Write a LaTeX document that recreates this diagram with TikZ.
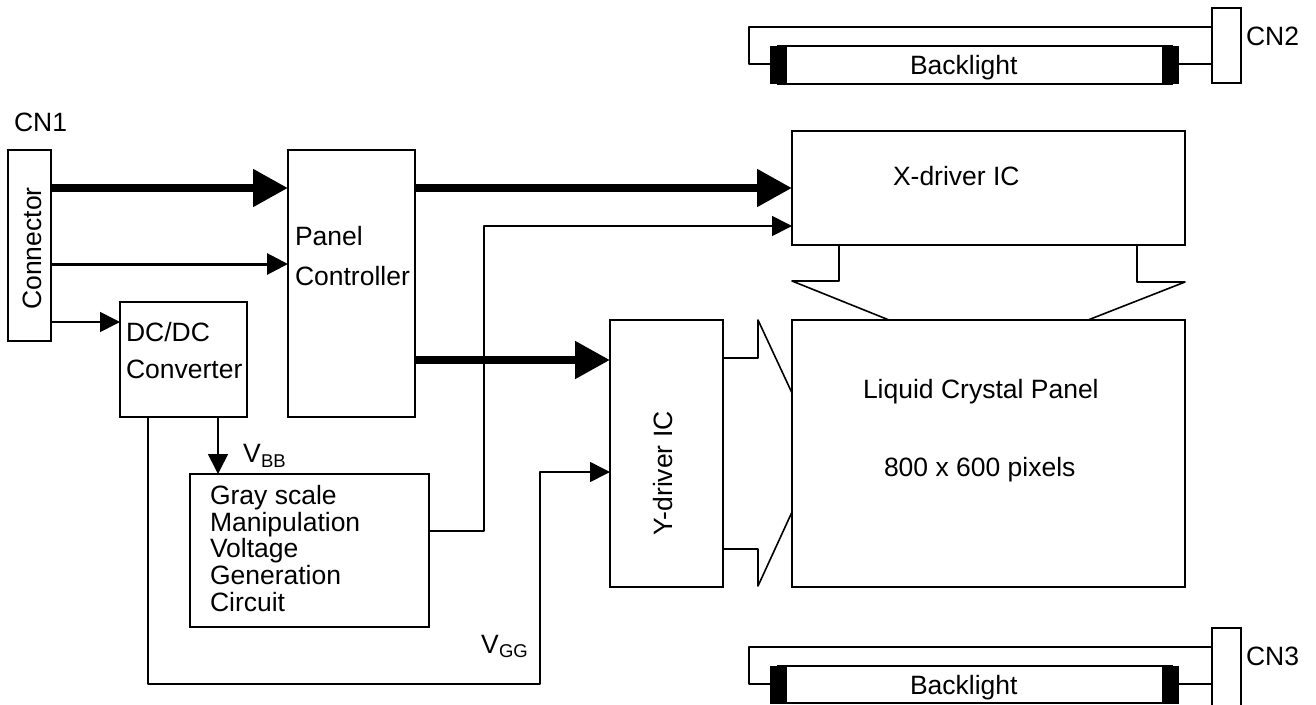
\documentclass[tikz,border=0pt]{standalone}
\usepackage{fontspec}
\setmainfont{Liberation Sans}
\usetikzlibrary{arrows.meta}
\tikzset{
    blockbox/.style={draw, line width=1.6pt, inner sep=0pt, outer sep=0pt},
    capbox/.style={fill=black, inner sep=0pt, outer sep=0pt, minimum width=17pt},
    wire/.style={line width=1.6pt, line join=round},
    txt/.style={anchor=base west, inner sep=0pt, outer sep=0pt, font=\fontsize{26.5}{26.6}\selectfont},
    txtup/.style={anchor=base, rotate=90, inner sep=0pt, outer sep=0pt, font=\fontsize{26.5}{26.6}\selectfont},
    subtxt/.style={anchor=base west, inner sep=0pt, outer sep=0pt, font=\fontsize{18.5}{19}\selectfont},
    widearrow/.style={line width=8pt, -{Triangle[length=35pt,width=36pt]}},
    midarrow/.style={line width=3pt, -{Triangle[length=21pt,width=21pt]}},
    thinarrow/.style={wire, -{Triangle[length=20pt,width=20pt]}}
}
\begin{document}
\begin{tikzpicture}[x=1pt,y=-1pt]
    \useasboundingbox (0,0) rectangle (1316,704);

    % Blocks on the left side
    \node[blockbox, minimum width=43pt, minimum height=191pt] (connector) at (29.5,245.5) {};
    \node[blockbox, minimum width=127pt, minimum height=267pt] (panelctl) at (351.5,283.5) {};
    \node[blockbox, minimum width=127pt, minimum height=115pt] (dcdc) at (183.5,359.5) {};
    \node[blockbox, minimum width=239pt, minimum height=153pt] (grayscale) at (309.5,550.5) {};

    % Drivers and panel
    \node[blockbox, minimum width=113pt, minimum height=267pt] (ydriver) at (666.5,453.5) {};
    \node[blockbox, minimum width=393pt, minimum height=114pt] (xdriver) at (988.5,188) {};
    \node[blockbox, minimum width=393pt, minimum height=267pt] (panel) at (988.5,453.5) {};

    % Connectors for the backlights
    \node[blockbox, minimum width=29pt, minimum height=75pt] (cntwo) at (1226.5,45.5) {};
    \node[blockbox, minimum width=29pt, minimum height=78pt] (cnthree) at (1226.5,667) {};

    % Upper backlight
    \draw[wire] (cntwo.west |- 0,27) -- (749,27) -- (749,64) -- (770,64);
    \draw[wire] (cntwo.west |- 0,64) -- (1179,64);
    \node[blockbox, minimum width=394pt, minimum height=37.5pt] (tubetop) at (975,65) {};
    \node[capbox, minimum height=38pt] (capa) at (778.5,65) {};
    \node[capbox, minimum height=38pt] (capb) at (1170.5,65) {};

    % Lower backlight
    \draw[wire] (cnthree.west |- 0,647) -- (749,647) -- (749,684) -- (770,684);
    \draw[wire] (cnthree.west |- 0,684) -- (1179,684);
    \node[blockbox, minimum width=394pt, minimum height=37pt] (tubebot) at (975,684.5) {};
    \node[capbox, minimum height=38pt] (capc) at (778.5,685) {};
    \node[capbox, minimum height=38pt] (capd) at (1170.5,685) {};

    % Thick buses
    \draw[widearrow] (connector.east |- 0,188) -- (panelctl.west |- 0,188);
    \draw[widearrow] (panelctl.east |- 0,188) -- (xdriver.west |- 0,188);
    \draw[widearrow] (panelctl.east |- 0,360) -- (ydriver.west |- 0,360);

    % Single lines
    \draw[midarrow] (connector.east |- 0,264) -- (panelctl.west |- 0,264);
    \draw[thinarrow] (connector.east |- 0,322) -- (dcdc.west |- 0,322);
    \draw[thinarrow] (dcdc.south -| 218,0) -- (grayscale.north -| 218,0);
    \draw[thinarrow] (grayscale.east |- 0,531) -- (484,531) -- (484,226) -- (xdriver.west |- 0,226);
    \draw[thinarrow] (dcdc.south -| 148,0) -- (148,684) -- (540,684) -- (540,472) -- (ydriver.west |- 0,472);

    % Fan-out from the drivers to the panel
    \draw[wire] (xdriver.south -| 839,0) -- (839,281) -- (792,281) -- (889,320);
    \draw[wire] (xdriver.south -| 1137,0) -- (1137,282) -- (1185,282) -- (1088,320);
    \draw[wire] (ydriver.east |- 0,358) -- (758,358) -- (758,320) -- (panel.west |- 0,393);
    \draw[wire] (ydriver.east |- 0,549) -- (758,549) -- (758,586) -- (panel.west |- 0,512);

    % Labels
    \node[txt] (cnonelbl) at (14,131) {CN1};
    \node[txt] (cntwolbl) at (1246,45) {CN2};
    \node[txt] (cnthreelbl) at (1246,665) {CN3};
    \node[txtup] (connlbl) at (41.5,248.5) {Connector};
    \node[txt] (paneltxt) at (295,245) {Panel};
    \node[txt] (ctltxt) at (295,285) {Controller};
    \node[txt] (dctxt) at (126,341) {DC/DC};
    \node[txt] (convtxt) at (126,378) {Converter};
    \node[txt] (graya) at (210,504) {Gray scale};
    \node[txt] (grayb) at (210,531) {Manipulation};
    \node[txt] (grayc) at (210,557) {Voltage};
    \node[txt] (grayd) at (210,584) {Generation};
    \node[txt] (graye) at (210,611) {Circuit};
    \node[txt] (vbb) at (243,462) {V};
    \node[subtxt] (vbbsub) at (261,467) {BB};
    \node[txt] (vgg) at (481,653) {V};
    \node[subtxt] (vggsub) at (499,657) {GG};
    \node[txtup] (ydrvlbl) at (672,473.5) {Y-driver IC};
    \node[txt] (xdrvlbl) at (893,185) {X-driver IC};
    \node[txt] (lcdlbl) at (863,398) {Liquid Crystal Panel};
    \node[txt] (pixlbl) at (884,476) {800 x 600 pixels};
    \node[txt] (blone) at (910,74) {Backlight};
    \node[txt] (bltwo) at (910,694) {Backlight};
\end{tikzpicture}
\end{document}
